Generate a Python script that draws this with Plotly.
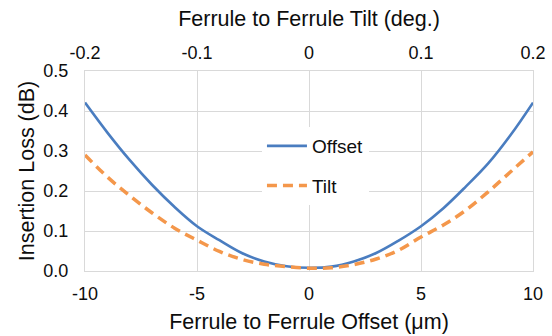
import plotly.graph_objects as go

offset_um = [-10, -9, -8, -7, -6, -5, -4, -3, -2, -1, 0, 1, 2, 3, 4, 5, 6, 7, 8, 9, 10]
offset_il = [0.421, 0.346, 0.277, 0.215, 0.160, 0.112, 0.077, 0.045, 0.024, 0.012, 0.008,
             0.011, 0.024, 0.045, 0.076, 0.112, 0.157, 0.211, 0.269, 0.340, 0.421]

tilt_deg = [-0.20, -0.18, -0.16, -0.14, -0.12, -0.10, -0.08, -0.06, -0.04, -0.02, 0.0,
            0.02, 0.04, 0.06, 0.08, 0.10, 0.12, 0.14, 0.16, 0.18, 0.20]
tilt_il = [0.290, 0.235, 0.188, 0.145, 0.107, 0.077, 0.049, 0.029, 0.017, 0.011, 0.007,
           0.008, 0.016, 0.030, 0.052, 0.085, 0.115, 0.152, 0.198, 0.248, 0.298]

bottom_ticks = [-10, -5, 0, 5, 10]
bottom_labels = ["-10", "-5", "0", "5", "10"]
top_ticks = [-0.2, -0.1, 0, 0.1, 0.2]
top_labels = ["-0.2", "-0.1", "0", "0.1", "0.2"]
y_ticks = [0, 0.1, 0.2, 0.3, 0.4, 0.5]
y_labels = ["0.0", "0.1", "0.2", "0.3", "0.4", "0.5"]

FONT = "Liberation Sans, Arial, sans-serif"
TXT = "#0d0d0d"
GRID = "#d9d9d9"

fig = go.Figure()
fig.add_trace(go.Scatter(x=offset_um, y=offset_il, name="Offset", mode="lines",
                         line=dict(color="#4A7DC0", width=2.6, shape="spline"),
                         legendgroup="a", xaxis="x", yaxis="y"))
fig.add_trace(go.Scatter(x=tilt_deg, y=tilt_il, name="Tilt", mode="lines",
                         line=dict(color="#F4974B", width=3.5, dash="10px,6px", shape="spline"),
                         legendgroup="b", xaxis="x2", yaxis="y"))

fig.update_layout(
    width=552, height=336,
    margin=dict(l=85, r=19, t=71, b=65),
    paper_bgcolor="white", plot_bgcolor="white",
    font=dict(family=FONT, size=18, color=TXT),
    showlegend=True,
    legend=dict(x=0.395, y=0.72, xanchor="left", yanchor="top",
                bgcolor="white", borderwidth=0, font=dict(size=19, color=TXT),
                itemwidth=40, tracegroupgap=12),
    xaxis=dict(range=[-10, 10], tickvals=bottom_ticks, ticktext=bottom_labels,
               showgrid=True, gridcolor=GRID, gridwidth=1, zeroline=False,
               showline=True, linecolor=GRID, linewidth=1, mirror=True, automargin=False,
               ticks="", ticklabelstandoff=6, tickfont=dict(size=18),
               title=dict(text="Ferrule to Ferrule Offset (μm)", font=dict(size=21.5, color=TXT), standoff=11)),
    xaxis2=dict(range=[-0.2, 0.2], tickvals=top_ticks, ticktext=top_labels,
                overlaying="x", side="top", anchor="y", automargin=False,
                showgrid=False, zeroline=False, showline=False, ticks="", ticklabelstandoff=7,
                tickfont=dict(size=18),
                title=dict(text="Ferrule to Ferrule Tilt (deg.)", font=dict(size=21.5, color=TXT), standoff=10)),
    yaxis=dict(range=[0, 0.5], tickvals=y_ticks, ticktext=y_labels,
               showgrid=True, gridcolor=GRID, gridwidth=1, zeroline=False,
               showline=True, linecolor=GRID, linewidth=1, mirror=True, automargin=False,
               ticks="", ticklabelstandoff=12, tickfont=dict(size=18),
               title=dict(text="Insertion Loss (dB)", font=dict(size=21.5, color=TXT), standoff=2)),
)

fig.write_html("out.html")
